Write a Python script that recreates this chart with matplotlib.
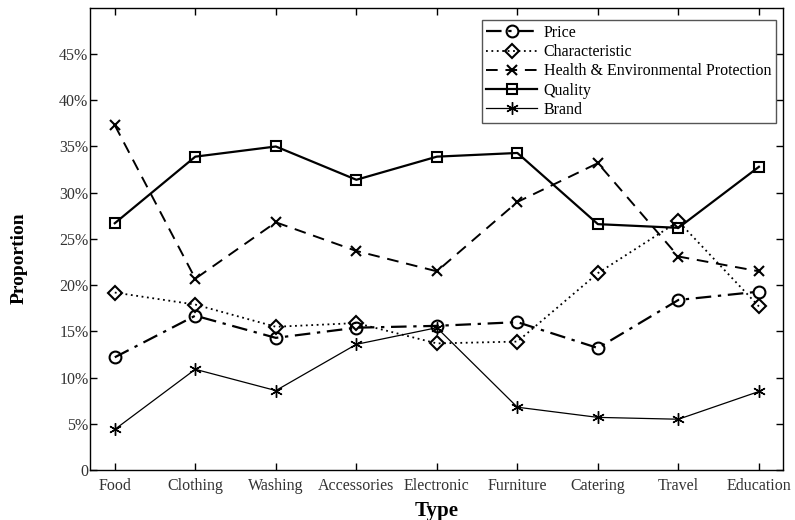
import numpy as np
import matplotlib.pyplot as plt
from matplotlib.ticker import FuncFormatter

plt.rcParams["font.family"] = ["Liberation Serif", "DejaVu Serif"]

types = ["Food", "Clothing", "Washing", "Accessories", "Electronic",
         "Furniture", "Catering", "Travel", "Education"]

price = [0.122, 0.167, 0.143, 0.154, 0.156, 0.160, 0.132, 0.184, 0.193]
characteristic = [0.192, 0.179, 0.155, 0.159, 0.137, 0.139, 0.213, 0.269, 0.177]
health = [0.373, 0.207, 0.268, 0.237, 0.215, 0.290, 0.332, 0.231, 0.215]
quality = [0.267, 0.339, 0.350, 0.314, 0.339, 0.343, 0.266, 0.262, 0.328]
brand = [0.044, 0.109, 0.086, 0.136, 0.154, 0.068, 0.057, 0.055, 0.085]

x = np.arange(1, len(types) + 1)

fig = plt.figure(figsize=(7.95, 5.2), dpi=100)
ax = fig.add_axes([0.113, 0.096, 0.872, 0.889])

ax.plot(x, price, color="black", linestyle=(0, (7, 3, 1.5, 3)), lw=1.6,
        marker="o", ms=8.5, mfc="none", mew=1.5, label="Price")
ax.plot(x, characteristic, color="black", linestyle=(0, (1, 2)), lw=1.3,
        marker="D", ms=7, mfc="none", mew=1.5, label="Characteristic")
ax.plot(x, health, color="black", linestyle=(0, (6, 4)), lw=1.4,
        marker="x", ms=7, mew=1.5, label="Health & Environmental Protection")
ax.plot(x, quality, color="black", linestyle="-", lw=1.6,
        marker="s", ms=7.5, mfc="none", mew=1.5, label="Quality")
ax.plot(x, brand, color="black", linestyle="-", lw=0.9,
        marker=(6, 2, 0), ms=9, mew=1.0, label="Brand")

ax.set_xlim(0.69, 9.3)
ax.set_ylim(0, 0.5)
ax.set_xticks(x)
ax.set_xticklabels(types)
ax.set_yticks(np.arange(0, 0.46, 0.05))
ax.yaxis.set_major_formatter(
    FuncFormatter(lambda v, _: "0" if v < 1e-9 else f"{v * 100:.0f}%"))

ax.tick_params(direction="in", length=5, width=1, top=True, right=True,
               labelsize=11.5, labelcolor="#333333")
ax.tick_params(axis="y", pad=1)
ax.tick_params(axis="x", pad=6)
for s in ax.spines.values():
    s.set_linewidth(1.0)

ax.set_xlabel("Type", fontsize=15, fontweight="bold", labelpad=5)
ax.set_ylabel("Proportion", fontsize=14, fontweight="bold")
ax.yaxis.set_label_coords(-0.09, 0.459)

leg = ax.legend(loc="upper right", bbox_to_anchor=(0.99, 0.973), fontsize=11.5,
                fancybox=False, edgecolor="#555555", framealpha=1,
                handlelength=3.2, handletextpad=0.4, labelspacing=0.2,
                borderpad=0.3, borderaxespad=0)
leg.get_frame().set_linewidth(1.0)

fig.savefig("out.png", dpi=100)
